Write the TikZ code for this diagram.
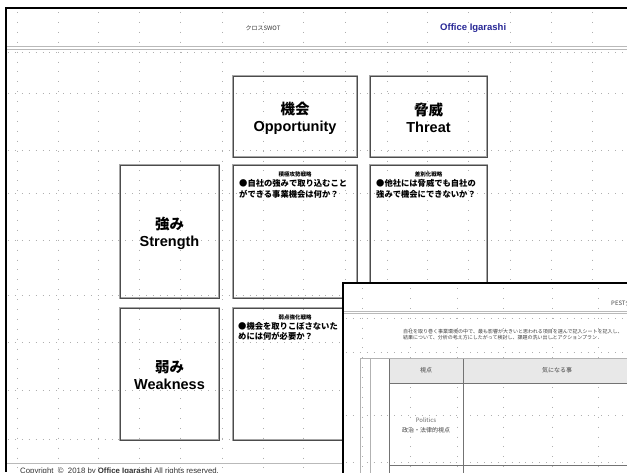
\documentclass[tikz,border=0pt]{standalone}
\usepackage{fontspec}
\setmainfont{Liberation Sans}
\newfontfamily\jp{Noto Sans CJK JP}
\definecolor{officeblue}{RGB}{40,40,150}
\definecolor{dotgray}{RGB}{175,175,175}
\definecolor{hdrfill}{RGB}{232,232,232}
\begin{document}
\begin{tikzpicture}[x=1pt,y=-1pt,
  vdots/.style={draw=dotgray, line width=0.9pt, dash pattern=on 0.9pt off 9pt},
  hdots/.style={draw=dotgray, line width=0.9pt, dash pattern=on 0.9pt off 6pt},
  cell/.style={draw=gray!70, double=black!70, double distance=0.6pt, line width=0.6pt, inner sep=0pt},
  lbl/.style={font=\bfseries\fontsize{14.5}{17}\selectfont, align=center, inner sep=0pt},
  ttl/.style={font=\jp\bfseries\fontsize{5.5}{6}\selectfont, inner sep=0pt},
  body/.style={font=\jp\bfseries\fontsize{8.3}{10.5}\selectfont, align=left, inner sep=0pt},
  tiny/.style={font=\jp\fontsize{5}{5.5}\selectfont, inner sep=0pt, text=black!75},
  tbl/.style={draw=black!55, line width=0.7pt},
  small/.style={font=\jp\fontsize{6}{7}\selectfont, inner sep=0pt, text=black!75}]
\useasboundingbox (0,0) rectangle (627,472);
\clip (0,0) rectangle (627,472);
\fill[white] (0,0) rectangle (627,472);
% ---------- sheet 1 grid ----------
\foreach \x in {17,58,98,139,180,222,263,303,345,387,427,468,510,551,592}
  \draw[vdots] (\x,12) -- (\x,472);
\foreach \y in {52,93,150,193,240,295,342,390,439}
  \draw[hdots] (8,\y) -- (627,\y);
% ---------- sheet 1 frame and header ----------
\draw[black, line width=1.3pt] (5,8) -- (627,8);
\draw[black, line width=1.3pt] (6,8) -- (6,472);
\draw[gray!55, line width=0.9pt] (7,46.5) -- (627,46.5);
\draw[gray!55, line width=0.9pt] (7,49.2) -- (627,49.2);
\node[font=\jp\fontsize{6}{7}\selectfont, text=black!80] (title) at (263,28) {クロスSWOT};
\node[font=\bfseries\fontsize{9.5}{11}\selectfont, text=officeblue, anchor=west, inner sep=0pt] (office) at (440,28) {Office Igarashi};
% ---------- boxes ----------
\node[cell, minimum width=124pt, minimum height=81pt] (opp) at (295,116.5) {};
\node[cell, minimum width=117pt, minimum height=81pt] (thr) at (428.5,116.5) {};
\node[cell, minimum width=99pt, minimum height=133pt] (str) at (169.5,231.5) {};
\node[cell, minimum width=124pt, minimum height=133pt] (so) at (295,231.5) {};
\node[cell, minimum width=117pt, minimum height=133pt] (st) at (428.5,231.5) {};
\node[cell, minimum width=99pt, minimum height=132pt] (wk) at (169.5,374) {};
\node[cell, minimum width=124pt, minimum height=132pt] (wo) at (295,374) {};
% labels
\node[lbl] (oppl) at (295,118) {{\jp 機会}\\Opportunity};
\node[lbl] (thrl) at (428.5,118) {{\jp 脅威}\\Threat};
\node[lbl] (strl) at (169.5,233) {{\jp 強み}\\Strength};
\node[lbl] (wkl) at (169.5,375) {{\jp 弱み}\\Weakness};
% contents
\node[ttl] (sot) at (295,174) {積極攻勢戦略};
\node[body, anchor=north west] (sob) at (239,179.5) {●自社の強みで取り込むこと\\ができる事業機会は何か？};
\node[ttl] (stt) at (428.5,174) {差別化戦略};
\node[body, anchor=north west] (stb) at (376,179.5) {●他社には脅威でも自社の\\強みで機会にできないか？};
\node[ttl] (wot) at (295,317) {弱点強化戦略};
\node[body, anchor=north west] (wob) at (238,322) {●機会を取りこぼさないた\\めには何が必要か？};
% footer
\draw[gray!55, line width=0.9pt] (7,463) -- (627,463);
\node[font=\fontsize{7.8}{9}\selectfont, anchor=base west, inner sep=0pt, text=black!80] (copy) at (20,473.5)
  {Copyright\ \ ©\ \ 2018 by \textbf{Office Igarashi} All rights reserved.};
% ---------- sheet 2 ----------
\fill[white] (343,283) rectangle (640,480);
\foreach \x in {362,410,457,503,552,598}
  \draw[vdots] (\x,288) -- (\x,472);
\foreach \y in {318,352,415,462}
  \draw[hdots] (346,\y) -- (627,\y);
\draw[black, line width=1.8pt] (343,480) -- (343,283) -- (640,283);
\draw[gray!55, line width=0.9pt] (344,311) -- (627,311);
\draw[gray!55, line width=0.9pt] (344,313.5) -- (627,313.5);
\node[small, anchor=west] (pest) at (611,303) {PEST分析};
\node[tiny, anchor=west] (d1) at (403,331.5) {自社を取り巻く事業環境の中で、最も影響が大きいと思われる項目を選んで記入シートを記入し、};
\node[tiny, anchor=west] (d2) at (403,337.5) {結果について、分析の考え方にしたがって検討し、課題の洗い出しとアクションプラン};
% table
\fill[hdrfill] (389,358) rectangle (630,383);
\draw[tbl, draw=gray!60] (360,358) -- (360,480);
\draw[tbl, draw=gray!60] (370,358) -- (370,480);
\draw[tbl] (389,358) -- (389,480);
\draw[tbl] (463,358) -- (463,480);
\draw[tbl, draw=gray!60] (360,358) -- (630,358);
\draw[tbl] (389,383) -- (630,383);
\draw[tbl] (389,465) -- (630,465);
\node[small] (h1) at (426,370) {視点};
\node[small] (h2) at (557,370) {気になる事};
\node[small, text=black!60] (p1) at (426,420) {Politics};
\node[small] (p2) at (426,430) {政治・法律的視点};
\end{tikzpicture}
\end{document}
